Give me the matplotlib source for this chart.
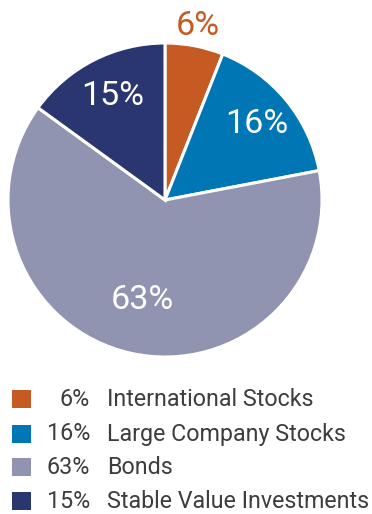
import matplotlib
matplotlib.use("Agg")
import matplotlib.pyplot as plt
from matplotlib.patches import Rectangle
import numpy as np

categories = ["International Stocks", "Large Company Stocks", "Bonds", "Stable Value Investments"]
values = [6, 16, 63, 15]
colors = ["#C55A23", "#0076B4", "#9094B0", "#2A366F"]
label_colors = ["#C55A23", "white", "white", "white"]
label_dist = [1.13, 0.76, 0.65, 0.74]

font = "Roboto"
weight = "normal"

W, H = 372, 514
fig = plt.figure(figsize=(W / 100, H / 100), dpi=100)
ax = fig.add_axes([0, 0, 1, 1])

cx, cy, R = 165, H - 200, 157
wedges, _ = ax.pie(values, colors=colors, startangle=90, counterclock=False,
                   center=(cx, cy), radius=R,
                   wedgeprops=dict(edgecolor="white", linewidth=2.2))
for w, v, d, c in zip(wedges, values, label_dist, label_colors):
    ang = np.deg2rad((w.theta1 + w.theta2) / 2)
    ax.text(cx + d * R * np.cos(ang), cy + d * R * np.sin(ang), f"{v}%",
            ha="center", va="center", fontsize=24.5, color=c, family=font, fontweight=weight)

ax.set_xlim(0, W)
ax.set_ylim(0, H)
ax.set_aspect("equal")
ax.set_axis_off()

renderer = fig.canvas.get_renderer()
probe = ax.text(0, 0, categories[3], fontsize=20, family=font, fontweight=weight)
wpx = probe.get_window_extent(renderer).width
probe.remove()
lfs = min(21, 20 * 262 / wpx)

row_y = [399, 434, 467, 501]
for yv, v, cat, c in zip(row_y, values, categories, colors):
    y = H - yv
    ax.add_patch(Rectangle((12, y - 9), 19, 18, facecolor=c, edgecolor="none"))
    ax.text(90, y, f"{v}%", ha="right", va="center", fontsize=lfs, color="#3d3d3d",
            family=font, fontweight=weight)
    ax.text(107, y, cat, ha="left", va="center", fontsize=lfs, color="#3d3d3d",
            family=font, fontweight=weight)
fig.savefig("out.png", dpi=100)
